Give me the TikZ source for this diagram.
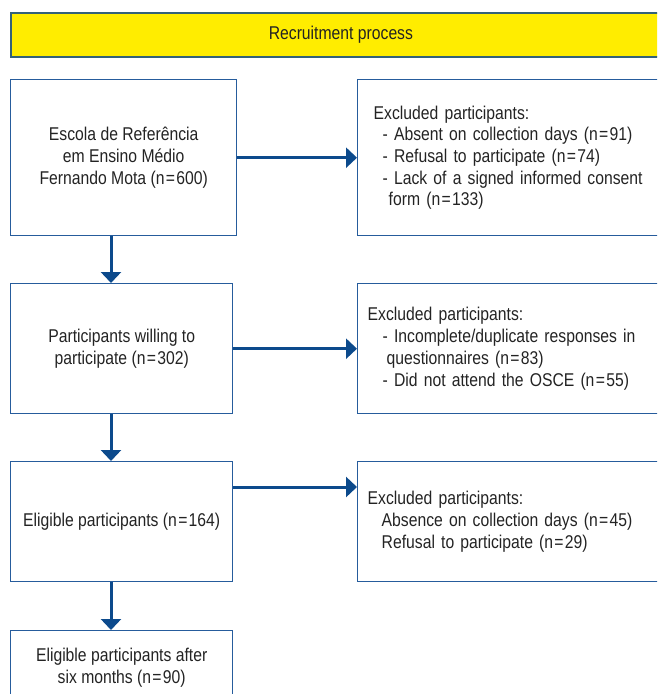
\documentclass[tikz,border=0pt]{standalone}
\usepackage{fontspec}
\setmainfont{Liberation Sans}[FakeStretch=0.85]
\usetikzlibrary{arrows.meta}
\definecolor{boxblue}{RGB}{38,92,156}
\definecolor{arrblue}{RGB}{12,74,140}
\definecolor{titleedge}{RGB}{52,98,120}
\definecolor{titlefill}{RGB}{255,237,0}
\definecolor{txtgray}{RGB}{35,35,35}
\newcommand\eqs{\kern1.3pt=\kern1.3pt}

\begin{document}
\begin{tikzpicture}[x=1pt, y=1pt,
        base/.style={draw=boxblue, line width=1.4pt, anchor=north west, inner sep=0pt,
                     font=\fontsize{18.5}{21.7}\selectfont, text=txtgray},
        box/.style={base, minimum width=222pt, align=center},
        exbox/.style={base, text width=290pt, align=left, inner xsep=10pt},
        titlebox/.style={base, draw=titleedge, fill=titlefill, line width=1.8pt,
                         minimum width=660pt, minimum height=44pt},
        arr/.style={-{Triangle[length=11pt, width=20pt]}, line width=3pt, arrblue},
    ]
    \path[use as bounding box] (0,0) rectangle (657,-694);
    \clip (0,0) rectangle (657,-694);

    % Header
    \node[titlebox] (title) at (10,-12) {Recruitment process};

    % Main flow
    \node[box, minimum width=226pt, minimum height=156pt] (escola) at (10,-79)
        {Escola de Referência\\em Ensino Médio\\Fernando Mota (n\eqs600)};
    \node[box, minimum height=130pt] (willing) at (10,-283)
        {Participants willing to\\participate (n\eqs302)};
    \node[box, minimum height=120pt] (eligible) at (10,-461)
        {Eligible participants (n\eqs164)};
    \node[box, minimum height=74pt] (sixmonths) at (10,-630)
        {Eligible participants after\\six months (n\eqs90)};

    % Exclusions
    \node[exbox, inner xsep=16pt, minimum height=156pt] (excl1) at (357,-79)
        {Excluded participants:\\
         \hspace*{9pt}- Absent on collection days (n\eqs91)\\
         \hspace*{9pt}- Refusal to participate (n\eqs74)\\
         \hspace*{9pt}- Lack of a signed informed consent\\
         \hspace*{15pt}form (n\eqs133)};
    \node[exbox, minimum height=130pt] (excl2) at (357,-283)
        {Excluded participants:\\
         \hspace*{15pt}- Incomplete/duplicate responses in\\
         \hspace*{19pt}questionnaires (n\eqs83)\\
         \hspace*{15pt}- Did not attend the OSCE (n\eqs55)};
    \node[exbox, minimum height=120pt] (excl3) at (357,-461)
        {Excluded participants:\\
         \hspace*{14pt}Absence on collection days (n\eqs45)\\
         \hspace*{14pt}Refusal to participate (n\eqs29)};

    % Arrows down
    \draw[arr] ([xshift=101pt]escola.south west) -- ([xshift=101pt]willing.north west);
    \draw[arr] ([xshift=101pt]willing.south west) -- ([xshift=101pt]eligible.north west);
    \draw[arr] ([xshift=101pt]eligible.south west) -- ([xshift=101pt]sixmonths.north west);

    % Arrows right
    \draw[arr] (escola.east) -- (excl1.west);
    \draw[arr] (willing.east) -- (excl2.west);
    \draw[arr] ([yshift=-26pt]eligible.north east) -- ([yshift=-26pt]excl3.north west);
\end{tikzpicture}
\end{document}
